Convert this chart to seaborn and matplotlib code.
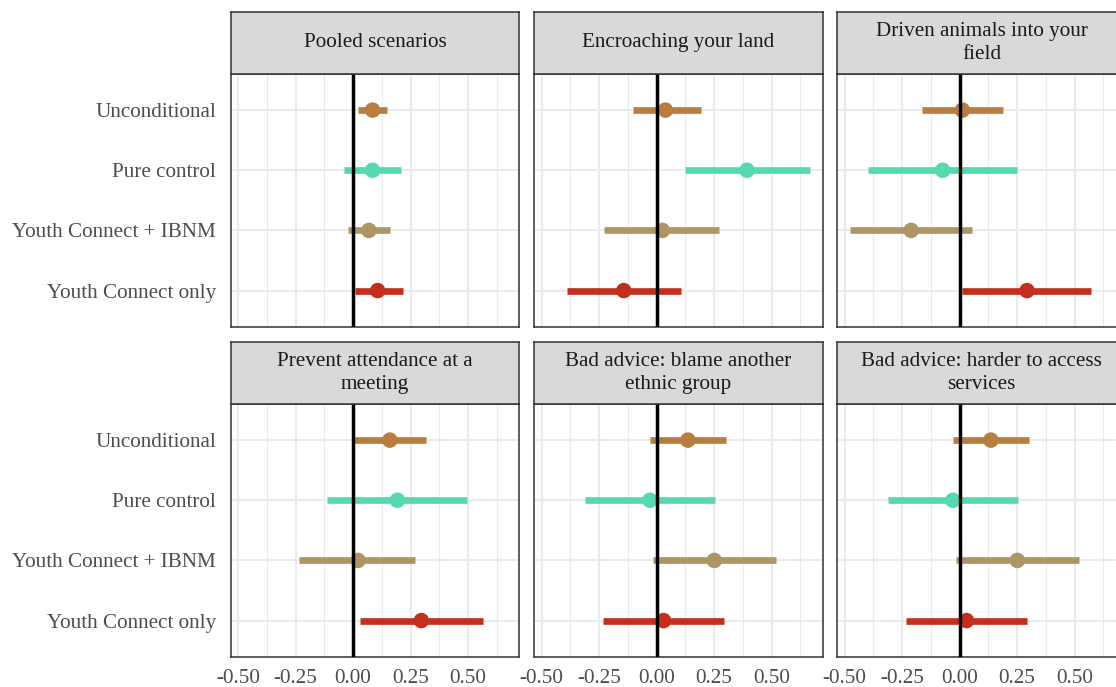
import textwrap
import numpy as np
import pandas as pd
import seaborn as sns
import matplotlib.pyplot as plt

# treatment arms, top to bottom
arms = ["Unconditional", "Pure control", "Youth Connect + IBNM", "Youth Connect only"]
arm_colors = ["#B97D3D", "#55D9B1", "#AE9664", "#C42F1D"]

scenarios = ["Pooled scenarios", "Encroaching your land",
             "Driven animals into your field", "Prevent attendance at a meeting",
             "Bad advice: blame another ethnic group",
             "Bad advice: harder to access services"]

# point estimates and 95% CI, one list per scenario (order = arms)
est_pooled = [0.085, 0.085, 0.069, 0.107]
lo_pooled = [0.023, -0.040, -0.022, 0.007]
hi_pooled = [0.149, 0.209, 0.160, 0.218]

est_encroach = [0.038, 0.393, 0.025, -0.143]
lo_encroach = [-0.101, 0.124, -0.228, -0.391]
hi_encroach = [0.195, 0.666, 0.273, 0.105]

est_animals = [0.012, -0.074, -0.211, 0.293]
lo_animals = [-0.163, -0.398, -0.475, 0.012]
hi_animals = [0.189, 0.248, 0.055, 0.571]

est_meeting = [0.160, 0.193, 0.022, 0.297]
lo_meeting = [0.003, -0.114, -0.235, 0.030]
hi_meeting = [0.317, 0.496, 0.270, 0.564]

est_blame = [0.136, -0.029, 0.251, 0.030]
lo_blame = [-0.029, -0.310, -0.014, -0.235]
hi_blame = [0.302, 0.253, 0.519, 0.294]

est_access = [0.136, -0.029, 0.251, 0.030]
lo_access = [-0.029, -0.310, -0.014, -0.235]
hi_access = [0.302, 0.253, 0.519, 0.294]

ests = [est_pooled, est_encroach, est_animals, est_meeting, est_blame, est_access]
los = [lo_pooled, lo_encroach, lo_animals, lo_meeting, lo_blame, lo_access]
his = [hi_pooled, hi_encroach, hi_animals, hi_meeting, hi_blame, hi_access]

rows = []
for s, e, l, h in zip(scenarios, ests, los, his):
    for i, a in enumerate(arms):
        rows.append(dict(scenario=s, arm=a, pos=i, est=e[i], lo=l[i], hi=h[i]))
df = pd.DataFrame(rows)

#%%
sns.set_style("white")
plt.rcParams['font.family'] = ['Liberation Serif', 'DejaVu Serif']
plt.rcParams['axes.unicode_minus'] = False
FS = 15.2

W, H = 1116, 687
fig = plt.figure(figsize=(W / 100, H / 100), dpi=100)

pal = dict(zip(arms, arm_colors))
xmin, xmax = df.lo.min(), df.hi.max()
pad = 0.05 * (xmax - xmin)
lefts = [230.7, 534.3, 837.3]
pw = 288.6
rows_px = [(11.7, 74.0, 326.7), (341.7, 404.0, 656.7)]
edge = "#333333"
xt = [-0.5, -0.25, 0, 0.25, 0.5]

for k, s in enumerate(scenarios):
    r, c = divmod(k, 3)
    st, pt, pb = rows_px[r]
    x0 = lefts[c]
    ax = fig.add_axes([x0 / W, 1 - pb / H, pw / W, (pb - pt) / H])
    sax = fig.add_axes([x0 / W, 1 - pt / H, pw / W, (pt - st) / H])

    sub = df[df.scenario == s]
    # grid
    for g in np.arange(-0.375, 0.7, 0.25):
        ax.axvline(g, color="#EBEBEB", lw=0.8, zorder=0)
    for g in xt:
        ax.axvline(g, color="#EBEBEB", lw=1.5, zorder=0)
    for p in range(len(arms)):
        ax.axhline(p, color="#EBEBEB", lw=1.5, zorder=0)

    ax.hlines(sub.pos, sub.lo, sub.hi, colors=[pal[a] for a in sub.arm], lw=4.8, zorder=2)
    sns.scatterplot(data=sub, x="est", y="pos", hue="arm", palette=pal, s=125,
                    linewidth=0, legend=False, ax=ax, zorder=3)
    ax.axvline(0, color="black", lw=2.5, zorder=4)

    ax.set_xlim(xmin - pad, xmax + pad)
    ax.set_ylim(len(arms) - 0.4, -0.6)
    ax.set_xlabel("")
    ax.set_ylabel("")
    ax.set_yticks(range(len(arms)))
    ax.set_yticklabels(arms if c == 0 else [])
    ax.set_xticks(xt)
    ax.set_xticklabels(["%.2f" % v for v in xt] if r == 1 else [])
    ax.tick_params(axis="y", labelsize=FS, labelcolor="#4D4D4D", color=edge,
                   width=1.1, length=3.5 if c == 0 else 0, pad=7)
    ax.tick_params(axis="x", labelsize=FS, labelcolor="#4D4D4D", color=edge,
                   width=1.1, length=3.5 if r == 1 else 0, pad=5)
    for sp in ax.spines.values():
        sp.set_color(edge)
        sp.set_linewidth(1.1)
        sp.set_visible(True)

    # strip
    sax.set_facecolor("#D9D9D9")
    sax.set_xticks([])
    sax.set_yticks([])
    for sp in sax.spines.values():
        sp.set_color(edge)
        sp.set_linewidth(1.1)
        sp.set_visible(True)
    sax.text(0.5, 0.5, textwrap.fill(s, 28), ha="center", va="center",
             fontsize=FS, color="#1A1A1A", linespacing=1.3,
             transform=sax.transAxes)

plt.savefig("out.png", dpi=100)
